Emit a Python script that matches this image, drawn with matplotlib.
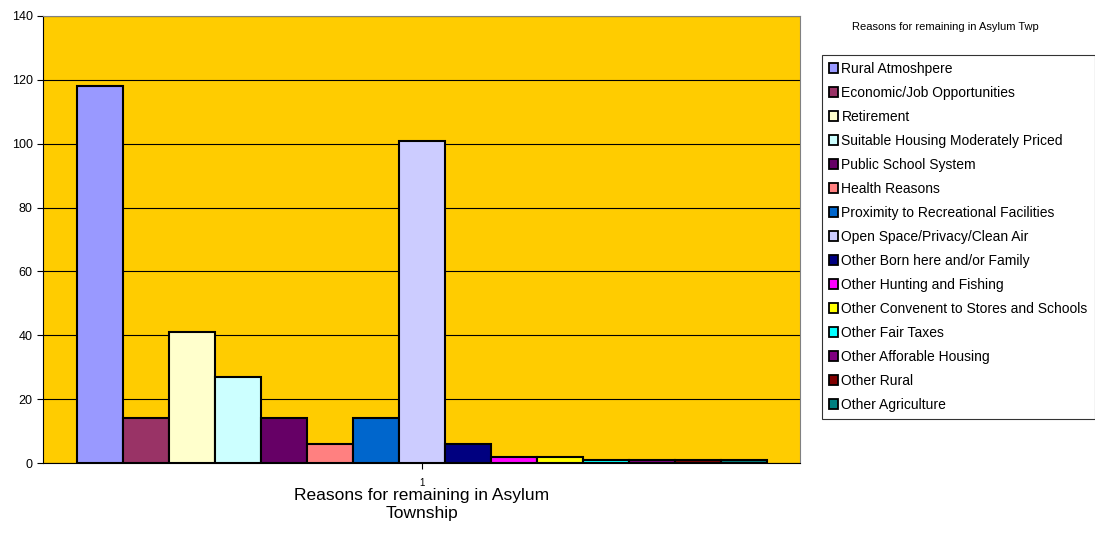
import matplotlib
matplotlib.use('Agg')
from matplotlib import pyplot as plt
from matplotlib.patches import Patch
import numpy as np

plt.rcParams['font.family'] = ['Liberation Sans', 'DejaVu Sans']

reasons = ["Rural Atmoshpere", "Economic/Job Opportunities", "Retirement",
           "Suitable Housing Moderately Priced", "Public School System",
           "Health Reasons", "Proximity to Recreational Facilities",
           "Open Space/Privacy/Clean Air", "Other Born here and/or Family",
           "Other Hunting and Fishing", "Other Convenent to Stores and Schools",
           "Other Fair Taxes", "Other Afforable Housing", "Other Rural",
           "Other Agriculture"]
counts = [118, 14, 41, 27, 14, 6, 14, 101, 6, 2, 2, 1, 1, 1, 1]
colors = ["#9999FF", "#993366", "#FFFFCC", "#CCFFFF", "#660066", "#FF8080",
          "#0066CC", "#CCCCFF", "#000080", "#FF00FF", "#FFFF00", "#00FFFF",
          "#800080", "#800000", "#008080"]

fig = plt.figure(figsize=(10.95, 5.36), dpi=100)
ax = fig.add_axes([43/1095, 73/536, 757/1095, 447/536])
ax.set_facecolor("#FFCC00")

x = np.arange(len(counts))
ax.bar(x, counts, width=1.0, color=colors, edgecolor="black", linewidth=1.5, zorder=3)

ax.set_ylim(0, 140)
ax.set_yticks(range(0, 141, 20))
ax.yaxis.grid(True, color="black", linewidth=0.8, zorder=0)
ax.set_xlim(-0.5 - 34/46, 14.5 + 33/46)
ax.set_xticks([7])
ax.set_xticklabels(["1"], fontsize=7)
ax.tick_params(axis='x', length=4, pad=7)
ax.tick_params(axis='y', labelsize=9, length=4, direction='out')
for s in ["top", "right"]:
    ax.spines[s].set_color("#808080")
ax.spines["left"].set_color("black")
ax.spines["bottom"].set_color("black")

ax.set_xlabel("Reasons for remaining in Asylum\nTownship", fontsize=12.5,
              labelpad=0, linespacing=1.25)

handles = [Patch(facecolor=c, edgecolor="black", linewidth=1.3) for c in colors]
leg = fig.legend(handles, reasons, loc="upper left", bbox_to_anchor=(822/1095, 1 - 55/536),
                 fontsize=10, frameon=True, fancybox=False, edgecolor="black",
                 handlelength=0.65, handleheight=0.65, handletextpad=0.25,
                 labelspacing=0.72, borderpad=0.5, borderaxespad=0)
leg.get_frame().set_linewidth(0.8)
fig.text(945/1095, 1 - 27/536, "Reasons for remaining in Asylum Twp",
         ha="center", va="center", fontsize=8)

fig.savefig("out.png", dpi=100)
plt.close()
